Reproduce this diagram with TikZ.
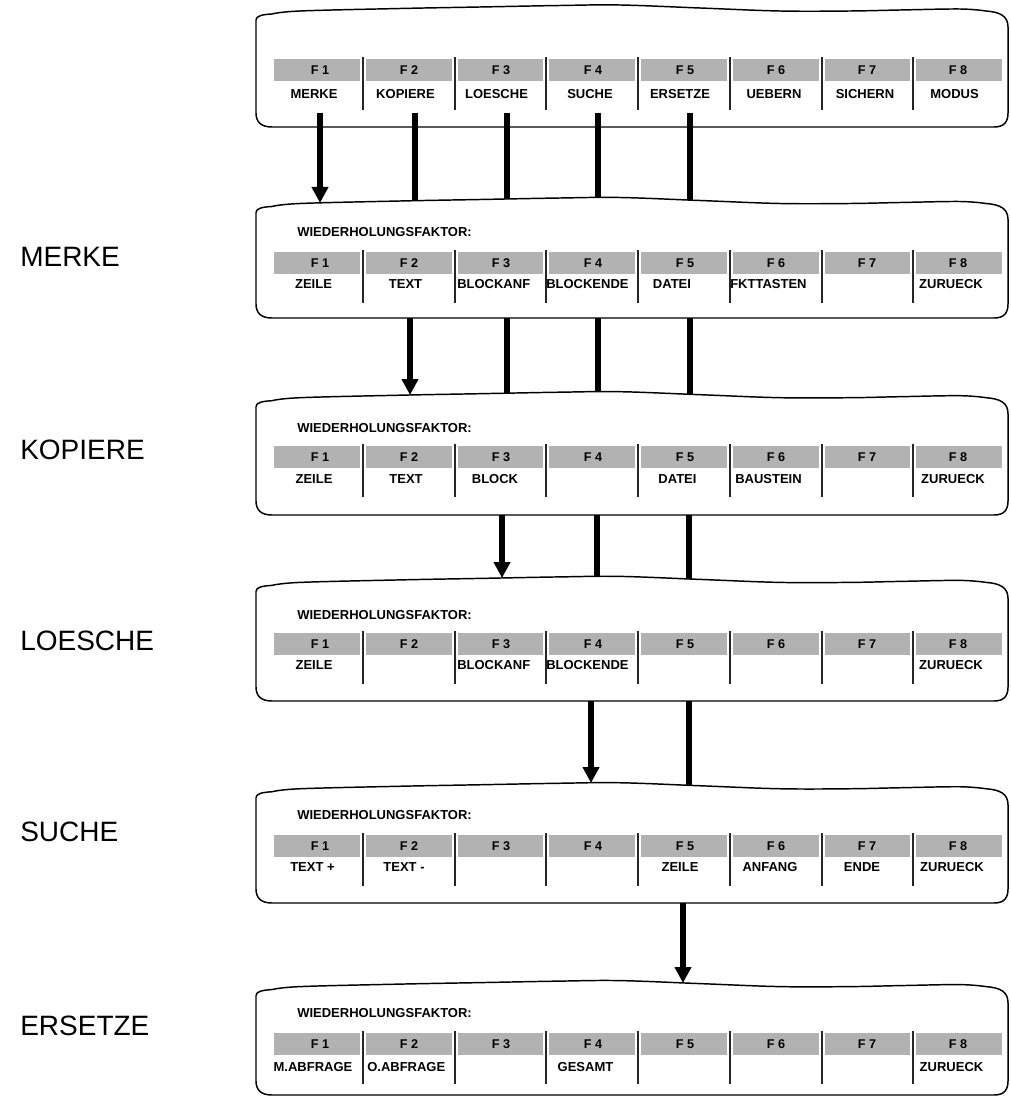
\documentclass[tikz,border=0pt]{standalone}
\usepackage{fontspec}
\setmainfont{Liberation Sans}
\usetikzlibrary{arrows.meta}

\tikzset{
  panelframe/.style={draw, line width=1.1pt, fill=white, line join=round},
  keyshade/.style={fill=black!30, draw=none},
  keysep/.style={line width=0.9pt, draw=black!85},
  fkey/.style={font=\fontsize{9.5}{11}\selectfont\bfseries, inner sep=0pt},
  cmd/.style={font=\fontsize{9.75}{11}\selectfont\bfseries, inner sep=0pt},
  cmdw/.style={cmd, anchor=west},
  prompt/.style={font=\fontsize{9.75}{11}\selectfont\bfseries, inner sep=0pt, anchor=west},
  menuname/.style={font=\fontsize{21}{24}\selectfont, inner sep=0pt, anchor=west},
  feed/.style={line width=4.1pt},
  feedarrow/.style={line width=4.1pt, -{Triangle[width=12pt,length=12pt]}},
}

% one menu screen: #1 name, #2 top, #3 top of the key strip, #4 bottom
\newcommand\menupanel[4]{%
  \path[panelframe] (256,#4-14) -- (256,#2+15)
    .. controls (256,#2+11) and (262,#2+9.5) .. (272,#2+9)
    -- plot[smooth, tension=0.6] coordinates {(272,#2+9) (300,#2+6) (400,#2+3.5)
       (480,#2+2) (560,#2+0.5) (620,#2) (700,#2+3) (780,#2+6) (850,#2+6)
       (900,#2+5) (960,#2+4) (986,#2+6)}
    .. controls (1000,#2+7) and (1008,#2+11) .. (1008,#2+22)
    -- (1008,#4-14) .. controls (1008,#4-5) and (1004,#4) .. (994,#4)
    -- (272,#4) .. controls (261,#4) and (256,#4-5) .. (256,#4-14) -- cycle;
  \foreach \xa/\xb in {274/360,366/452,458/543,549/635,641/727,733/819,825/910,916/1002}
    \fill[keyshade] (\xa,#3) rectangle (\xb,#3+22);
  \foreach \xd in {363,455,546,638,730,822,913}
    \draw[keysep] (\xd,#3-2) -- (\xd,#3+51);
  \foreach \xk [count=\k] in {320,409,501,593,685,776,867,958}
    \node[fkey] (#1-f\k) at (\xk,#3+11) {F \k};
}

\begin{document}
\begin{tikzpicture}[x=0.75pt, y=-0.75pt]
\useasboundingbox (0,0) rectangle (1010,1098);

% main menu
\menupanel{p1}{5}{59}{127}
\node[cmd] (p1-l1) at (314,94)   {MERKE};
\node[cmd] (p1-l2) at (405.5,94) {KOPIERE};
\node[cmd] (p1-l3) at (496.5,94) {LOESCHE};
\node[cmd] (p1-l4) at (590,94)   {SUCHE};
\node[cmd] (p1-l5) at (680,94)   {ERSETZE};
\node[cmd] (p1-l6) at (774,94)   {UEBERN};
\node[cmd] (p1-l7) at (865,94)   {SICHERN};
\node[cmd] (p1-l8) at (954.5,94) {MODUS};

\coordinate (p1-o1) at (320,113); \coordinate (p2-i1) at (320,203);
\coordinate (p1-o2) at (415,113); \coordinate (p2-i2) at (415,206);
\coordinate (p1-o3) at (507,113); \coordinate (p2-i3) at (507,206);
\coordinate (p1-o4) at (598,113); \coordinate (p2-i4) at (598,206);
\coordinate (p1-o5) at (690,113); \coordinate (p2-i5) at (690,206);
\draw[feedarrow] (p1-o1) -- (p2-i1);
\draw[feed] (p1-o2) -- (p2-i2);
\draw[feed] (p1-o3) -- (p2-i3);
\draw[feed] (p1-o4) -- (p2-i4);
\draw[feed] (p1-o5) -- (p2-i5);

% MERKE
\menupanel{p2}{197.5}{252}{318}
\node[menuname] (n2) at (20,257) {MERKE};
\node[prompt] (w2) at (297,232) {WIEDERHOLUNGSFAKTOR:};
\node[cmd]  (p2-l1) at (313.5,284) {ZEILE};
\node[cmd]  (p2-l2) at (405.5,284) {TEXT};
\node[cmdw] (p2-l3) at (457,284)   {BLOCKANF};
\node[cmdw] (p2-l4) at (546,284)   {BLOCKENDE};
\node[cmd]  (p2-l5) at (672,284)   {DATEI};
\node[cmdw] (p2-l6) at (730,284)   {FKTTASTEN};
\node[cmd]  (p2-l8) at (951,284)   {ZURUECK};

\coordinate (p2-o1) at (410,318); \coordinate (p3-i1) at (410,395);
\coordinate (p2-o2) at (507,318); \coordinate (p3-i2) at (507,400);
\coordinate (p2-o3) at (598,318); \coordinate (p3-i3) at (598,400);
\coordinate (p2-o4) at (690,318); \coordinate (p3-i4) at (690,400);
\draw[feedarrow] (p2-o1) -- (p3-i1);
\draw[feed] (p2-o2) -- (p3-i2);
\draw[feed] (p2-o3) -- (p3-i3);
\draw[feed] (p2-o4) -- (p3-i4);

% KOPIERE
\menupanel{p3}{391.7}{446}{515}
\node[menuname] (n3) at (20,450) {KOPIERE};
\node[prompt] (w3) at (297,428) {WIEDERHOLUNGSFAKTOR:};
\node[cmd]  (p3-l1) at (314,479)   {ZEILE};
\node[cmd]  (p3-l2) at (406,479)   {TEXT};
\node[cmd]  (p3-l3) at (495,479)   {BLOCK};
\node[cmd]  (p3-l5) at (677.5,479) {DATEI};
\node[cmdw] (p3-l6) at (735,479)   {BAUSTEIN};
\node[cmd]  (p3-l8) at (953,479)   {ZURUECK};

\coordinate (p3-o1) at (502,515); \coordinate (p4-i1) at (502,578);
\coordinate (p3-o2) at (597,515); \coordinate (p4-i2) at (597,584);
\coordinate (p3-o3) at (689,515); \coordinate (p4-i3) at (689,584);
\draw[feedarrow] (p3-o1) -- (p4-i1);
\draw[feed] (p3-o2) -- (p4-i2);
\draw[feed] (p3-o3) -- (p4-i3);

% LOESCHE
\menupanel{p4}{576.4}{633}{701}
\node[menuname] (n4) at (20,641) {LOESCHE};
\node[prompt] (w4) at (297,615) {WIEDERHOLUNGSFAKTOR:};
\node[cmd]  (p4-l1) at (314,665) {ZEILE};
\node[cmdw] (p4-l3) at (457,665) {BLOCKANF};
\node[cmdw] (p4-l4) at (546,665) {BLOCKENDE};
\node[cmd]  (p4-l8) at (951,665) {ZURUECK};

\coordinate (p4-o1) at (591,701); \coordinate (p5-i1) at (591,783);
\coordinate (p4-o2) at (689,701); \coordinate (p5-i2) at (689,790);
\draw[feedarrow] (p4-o1) -- (p5-i1);
\draw[feed] (p4-o2) -- (p5-i2);

% SUCHE
\menupanel{p5}{782.75}{835}{903}
\node[menuname] (n5) at (20,832) {SUCHE};
\node[prompt] (w5) at (297,815) {WIEDERHOLUNGSFAKTOR:};
\node[cmd] (p5-l1) at (312.5,867) {TEXT +};
\node[cmd] (p5-l2) at (404,867)   {TEXT -};
\node[cmd] (p5-l5) at (680,867)   {ZEILE};
\node[cmd] (p5-l6) at (770,867)   {ANFANG};
\node[cmd] (p5-l7) at (862,867)   {ENDE};
\node[cmd] (p5-l8) at (952,867)   {ZURUECK};

\coordinate (p5-o1) at (683,903); \coordinate (p6-i1) at (683,983);
\draw[feedarrow] (p5-o1) -- (p6-i1);

% ERSETZE
\menupanel{p6}{980.6}{1033}{1095}
\node[menuname] (n6) at (20,1026) {ERSETZE};
\node[prompt] (w6) at (297,1013) {WIEDERHOLUNGSFAKTOR:};
\node[cmd]  (p6-l1) at (313,1067)   {M.ABFRAGE};
\node[cmdw] (p6-l2) at (367,1067)   {O.ABFRAGE};
\node[cmd]  (p6-l4) at (585.5,1067) {GESAMT};
\node[cmd]  (p6-l8) at (951.5,1067) {ZURUECK};
\end{tikzpicture}
\end{document}
